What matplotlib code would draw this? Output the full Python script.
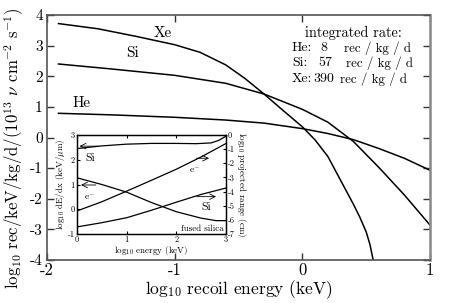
import matplotlib
matplotlib.use("Agg")
import matplotlib.pyplot as plt

plt.rcParams.update({
    "font.family": "serif",
    "font.serif": ["cmr10", "DejaVu Serif"],
    "mathtext.fontset": "cm",
    "axes.unicode_minus": False,
    "axes.formatter.use_mathtext": False,
})

# ---------- main panel data (log10 recoil energy, log10 rate) ----------
xe_x = [-1.91, -1.6, -1.3, -1.0, -0.8, -0.6, -0.45, -0.3, -0.15, 0.0, 0.1, 0.2, 0.3, 0.4, 0.45, 0.5, 0.53, 0.555]
xe_y = [3.72, 3.55, 3.30, 3.03, 2.78, 2.37, 1.93, 1.42, 0.88, 0.35, -0.08, -0.62, -1.40, -2.18, -2.60, -3.08, -3.50, -4.0]
si_x = [-1.91, -1.5, -1.0, -0.6, -0.3, 0.0, 0.2, 0.4, 0.6, 0.8, 1.0]
si_y = [2.40, 2.24, 2.03, 1.77, 1.42, 0.92, 0.50, -0.13, -0.98, -1.88, -2.86]
he_x = [-1.91, -1.5, -1.0, -0.6, -0.3, 0.0, 0.2, 0.4, 0.6, 0.8, 1.0]
he_y = [0.79, 0.74, 0.66, 0.57, 0.47, 0.29, 0.13, -0.07, -0.36, -0.68, -1.07]

rate_labels = ["He:", "Si:", "Xe:"]
rate_values = ["8", "57", "390"]

# ---------- inset data (log10 energy in keV) ----------
si_dedx_x = [0, 0.5, 1.0, 1.5, 2.0, 2.4, 2.7, 2.85, 3.0]
si_dedx_y = [2.45, 2.56, 2.63, 2.66, 2.66, 2.65, 2.68, 2.78, 2.95]
e_dedx_x = [0, 0.5, 1.0, 1.5, 2.0, 2.5, 2.8, 3.0]
e_dedx_y = [1.27, 1.0, 0.69, 0.27, -0.10, -0.36, -0.46, -0.46]
e_range_x = [0, 0.5, 1.0, 1.5, 2.0, 2.5, 3.0]
e_range_y = [-5.37, -4.72, -3.97, -3.2, -2.42, -1.55, -0.6]
si_range_x = [0, 0.5, 1.0, 1.5, 2.0, 2.5, 3.0]
si_range_y = [-6.5, -6.2, -5.85, -5.32, -4.75, -4.2, -3.75]

W, H = 471, 303
fig = plt.figure(figsize=(W / 100, H / 100), dpi=100)

def px2x(px):
    return -2 + (px - 47) / 127.7

# main axes
ax = fig.add_axes([47 / W, 1 - 260 / H, (430 - 47) / W, (260 - 15) / H])
lw = 1.1
ax.plot(xe_x, xe_y, color="black", lw=lw)
ax.plot(si_x, si_y, color="black", lw=lw)
ax.plot(he_x, he_y, color="black", lw=lw)
ax.set_xlim(-2, 1)
ax.set_ylim(-4, 4)
ax.set_xticks([-2, -1, 0, 1])
ax.set_yticks(range(-4, 5))
ax.tick_params(direction="in", length=5, width=1, top=True, right=True, color="#333333")
ax.tick_params(axis="x", labelsize=12, pad=2)
ax.tick_params(axis="y", labelsize=11, pad=3)
for s in ax.spines.values():
    s.set_color("#555555")
    s.set_linewidth(1.2)
ax.spines["right"].set_color("#888888")
ax.spines["right"].set_linewidth(1.8)

ax.set_xlabel(r"log$_{10}$ recoil energy (keV)", fontsize=12.5, labelpad=0)
ax.set_ylabel(r"log$_{10}$ rec/keV/kg/d/(10$^{13}$ $\nu$ cm$^{-2}$ s$^{-1}$)", fontsize=12.1)
ax.yaxis.set_label_coords(-0.056, 0.455)

ax.text(-1.09, 3.41, "Xe", fontsize=11, ha="center", va="center")
ax.text(-1.33, 2.74, "Si", fontsize=11, ha="center", va="center")
ax.text(-1.73, 1.12, "He", fontsize=11, ha="center", va="center")

fs = 10
ax.text(0.40, 3.41, "integrated rate:", fontsize=10.3, ha="center", va="center")
row_y = [2.92, 2.43, 1.91]
num_px = [320, 318, 313]
unit_px = [344, 346, 340]
for lab, val, yy, nx, ux in zip(rate_labels, rate_values, row_y, num_px, unit_px):
    ax.text(px2x(292), yy, lab, fontsize=fs, ha="left", va="center")
    ax.text(px2x(nx), yy, val, fontsize=fs, ha="left", va="center")
    ax.text(px2x(ux), yy, "rec / kg / d", fontsize=9.3, ha="left", va="center")

# inset
axi = fig.add_axes([77 / W, 1 - 234 / H, 149 / W, 99 / H])
axi.set_facecolor("white")
axi.plot(si_dedx_x, si_dedx_y, color="black", lw=0.9)
axi.plot(e_dedx_x, e_dedx_y, color="black", lw=0.9)
axi.set_xlim(0, 3)
axi.set_ylim(-1, 3)
axi.set_xticks([0, 1, 2, 3])
axi.set_yticks([-1, 0, 1, 2, 3])
axi.tick_params(direction="in", length=2, width=0.8, top=True, labelsize=6, pad=1.5)
axi.set_xlabel(r"log$_{10}$ energy (keV)", fontsize=6.5, labelpad=0)
axi.set_ylabel(r"log$_{10}$ dE/dx (keV/$\mu$m)", fontsize=6.5, labelpad=1)

axr = axi.twinx()
axr.plot(e_range_x, e_range_y, color="black", lw=0.9)
axr.plot(si_range_x, si_range_y, color="black", lw=0.9)
axr.set_ylim(-7, 0)
axr.set_yticks(range(-7, 1))
axr.tick_params(direction="in", length=2, width=0.8, labelsize=6, pad=1.5)
axr.set_ylabel(r"log$_{10}$ projected range (cm)", fontsize=6.5, rotation=270, labelpad=9)
for a in (axi, axr):
    for s in a.spines.values():
        s.set_linewidth(0.9)

arr = dict(arrowstyle="->", lw=0.6, color="black", shrinkA=0, shrinkB=0)
axi.annotate("", xy=(0.05, 2.55), xytext=(0.42, 2.55), arrowprops=arr)
axi.annotate("", xy=(0.08, 0.98), xytext=(0.38, 0.98), arrowprops=arr)
axi.annotate("", xy=(2.66, 2.06), xytext=(2.40, 2.06), arrowprops=arr)
axi.annotate("", xy=(2.80, 0.51), xytext=(2.41, 0.51), arrowprops=arr)
axi.text(0.26, 2.06, "Si", fontsize=8.5, ha="center", va="center")
axi.text(0.26, 0.50, r"e$^{-}$", fontsize=7, ha="center", va="center")
axi.text(2.37, 1.59, r"e$^{-}$", fontsize=7, ha="center", va="center")
axi.text(2.61, 0.10, "Si", fontsize=8.5, ha="center", va="center")
axi.text(2.95, -0.77, "fused silica", fontsize=6.5, ha="right", va="center")

fig.savefig("out.png", dpi=100)
